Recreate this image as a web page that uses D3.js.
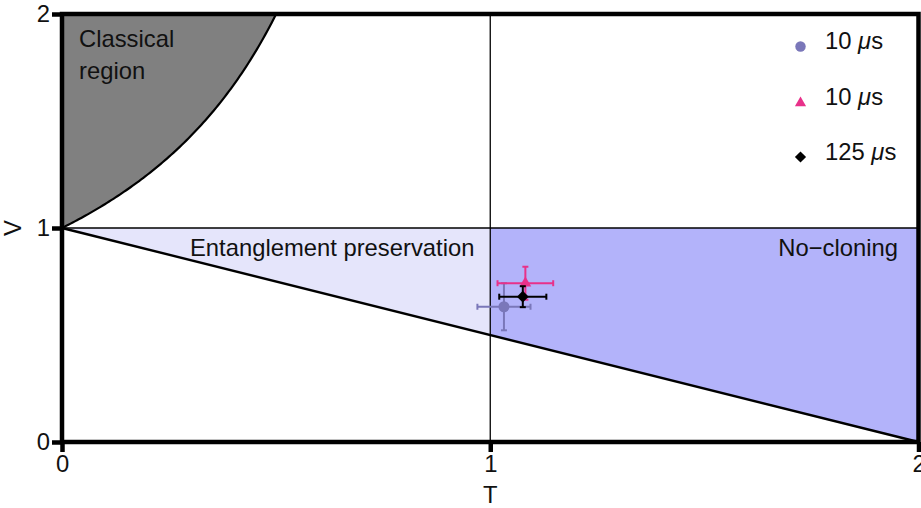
<!DOCTYPE html>
<html>
<head>
<meta charset="utf-8">
<script src="https://cdn.jsdelivr.net/npm/d3@7"></script>
<style>
  html, body { margin: 0; padding: 0; background: #fff; }
  svg { display: block; font-family: "Liberation Sans", Arial, sans-serif; }
</style>
</head>
<body>
<svg id="chart" width="921" height="508"></svg>
<script>
// Axis ticks
const tTicks = [0, 1, 2];
const vTicks = [0, 1, 2];

// Measured points: name, marker, colour, T, V, T error, V error
const seriesNames   = ["10 \u03bcs", "10 \u03bcs", "125 \u03bcs"];
const seriesSymbols = ["circle", "triangle", "diamond"];
const seriesColors  = ["#7a77b9", "#e8318a", "#000000"];
const seriesT       = [1.032, 1.082, 1.076];
const seriesV       = [0.632, 0.742, 0.679];
const seriesTErr    = [0.062, 0.065, 0.055];
const seriesVErr    = [0.110, 0.077, 0.049];

// Region boundaries
const classicalT = d3.range(0, 0.5001, 0.005);          // V = 1/(1-T)
const entLineT   = [0, 2];                               // V = 1 - T/2

const svg = d3.select("#chart");
const x = d3.scaleLinear().domain([0, 2]).range([62, 918.5]);
const y = d3.scaleLinear().domain([0, 2]).range([442, 14]);

const font = 23.8;

// Classical region (grey)
const classical = classicalT.map(t => [t, 1 / (1 - t)]);
svg.append("path")
  .attr("d", d3.line().x(d => x(d[0])).y(d => y(d[1]))([[0, 2], ...classical, [0.5, 2]]))
  .attr("fill", "#808080");
svg.append("path")
  .attr("d", d3.line().x(d => x(d[0])).y(d => y(d[1]))(classical))
  .attr("fill", "none").attr("stroke", "#000").attr("stroke-width", 2.2);

// Entanglement preservation region (light)
svg.append("path")
  .attr("d", d3.line().x(d => x(d[0])).y(d => y(d[1]))([[0, 1], [1, 1], [1, 0.5]]) + "Z")
  .attr("fill", "#e5e5fb");

// No-cloning region (blue)
svg.append("path")
  .attr("d", d3.line().x(d => x(d[0])).y(d => y(d[1]))([[1, 1], [2, 1], [2, 0], [1, 0.5]]) + "Z")
  .attr("fill", "#b3b3fa");

// Thin guide lines at T = 1 and V = 1
svg.append("line")
  .attr("x1", x(1)).attr("x2", x(1)).attr("y1", y(0)).attr("y2", y(2))
  .attr("stroke", "#000").attr("stroke-width", 1.3);
svg.append("line")
  .attr("x1", x(0)).attr("x2", x(2)).attr("y1", y(1)).attr("y2", y(1))
  .attr("stroke", "#000").attr("stroke-width", 1.3);

// Boundary V = 1 - T/2
svg.append("path")
  .attr("d", d3.line().x(d => x(d)).y(d => y(1 - d / 2))(entLineT))
  .attr("fill", "none").attr("stroke", "#000").attr("stroke-width", 2.4);

// Region labels
svg.append("text").attr("x", 79).attr("y", 46.5).attr("font-size", font).attr("fill", "#111").text("Classical");
svg.append("text").attr("x", 79).attr("y", 79).attr("font-size", font).attr("fill", "#111").text("region");
svg.append("text").attr("x", 190).attr("y", 256).attr("font-size", font).attr("fill", "#111").text("Entanglement preservation");
svg.append("text").attr("x", 898).attr("y", 255.5).attr("text-anchor", "end").attr("font-size", font).attr("fill", "#111").text("No\u2212cloning");

// Marker shapes (diamond = square turned 45 degrees)
const symbolTypes = { circle: d3.symbolCircle, triangle: d3.symbolTriangle, diamond: d3.symbolSquare };
const symbolSizes = { circle: 95, triangle: 60, diamond: 70 };
const symbolRotate = { circle: 0, triangle: 0, diamond: 45 };

// Error bars and markers
const capHalf = 3;
seriesNames.forEach((name, i) => {
  const k = seriesSymbols[i];
  const g = svg.append("g").attr("stroke", seriesColors[i]).attr("stroke-width", 2).attr("fill", "none");
  const cx = x(seriesT[i]), cy = y(seriesV[i]);
  const xl = x(seriesT[i] - seriesTErr[i]), xr = x(seriesT[i] + seriesTErr[i]);
  const yt = y(seriesV[i] + seriesVErr[i]), yb = y(seriesV[i] - seriesVErr[i]);
  g.append("line").attr("x1", xl).attr("x2", xr).attr("y1", cy).attr("y2", cy);
  g.append("line").attr("x1", xl).attr("x2", xl).attr("y1", cy - capHalf).attr("y2", cy + capHalf);
  g.append("line").attr("x1", xr).attr("x2", xr).attr("y1", cy - capHalf).attr("y2", cy + capHalf);
  g.append("line").attr("x1", cx).attr("x2", cx).attr("y1", yt).attr("y2", yb);
  g.append("line").attr("x1", cx - capHalf).attr("x2", cx + capHalf).attr("y1", yt).attr("y2", yt);
  g.append("line").attr("x1", cx - capHalf).attr("x2", cx + capHalf).attr("y1", yb).attr("y2", yb);
  svg.append("path")
    .attr("transform", `translate(${cx},${cy}) rotate(${symbolRotate[k]})`)
    .attr("d", d3.symbol().type(symbolTypes[k]).size(symbolSizes[k])())
    .attr("fill", seriesColors[i]);
});

// Legend
const legendY = [46.5, 102, 157];
seriesNames.forEach((name, i) => {
  const k = seriesSymbols[i];
  svg.append("path")
    .attr("transform", `translate(800.5,${legendY[i] + (k === "triangle" ? 1 : 0)}) rotate(${symbolRotate[k]})`)
    .attr("d", d3.symbol().type(symbolTypes[k]).size(symbolSizes[k] * 0.9)())
    .attr("fill", seriesColors[i]);
  const parts = name.split("\u03bc");
  const t = svg.append("text").attr("x", 825).attr("y", legendY[i] + 2.8)
    .attr("font-size", font).attr("fill", "#111");
  t.append("tspan").text(parts[0]);
  t.append("tspan").attr("font-style", "italic").text("\u03bc");
  t.append("tspan").text(parts[1]);
});

// Frame
svg.append("rect")
  .attr("x", x(0)).attr("y", y(2))
  .attr("width", x(2) - x(0)).attr("height", y(0) - y(2))
  .attr("fill", "none").attr("stroke", "#000").attr("stroke-width", 4.5);

// Axes
const xAxis = svg.append("g").attr("transform", `translate(0,${y(0)})`)
  .call(d3.axisBottom(x).tickValues(tTicks).tickFormat(d3.format("d")).tickSize(10).tickPadding(3));
const yAxis = svg.append("g").attr("transform", `translate(${x(0)},0)`)
  .call(d3.axisLeft(y).tickValues(vTicks).tickFormat(d3.format("d")).tickSize(10).tickPadding(2));
[xAxis, yAxis].forEach(a => {
  a.select(".domain").remove();
  a.selectAll(".tick line").attr("stroke", "#000").attr("stroke-width", 4.5);
  a.selectAll(".tick text").attr("font-size", font).attr("fill", "#111")
    .attr("font-family", "'Liberation Sans', Arial, sans-serif");
});

// Axis titles
svg.append("text").attr("x", x(1)).attr("y", 503).attr("text-anchor", "middle")
  .attr("font-size", font).attr("fill", "#111").text("T");
svg.append("text").attr("transform", `translate(20.5,${y(1)}) rotate(-90)`).attr("text-anchor", "middle")
  .attr("font-size", font).attr("fill", "#111").text("V");
</script>
</body>
</html>
